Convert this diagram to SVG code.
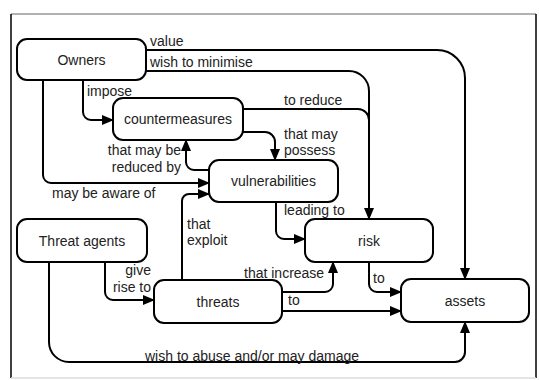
<svg xmlns="http://www.w3.org/2000/svg" width="539" height="380" viewBox="0 0 539 380">
<style>
.node rect{fill:#fff;stroke:#000;stroke-width:2}
.node text{font-family:"Liberation Sans",Arial,sans-serif;font-size:14px;fill:#222;text-anchor:middle}
.lbl{font-family:"Liberation Sans",Arial,sans-serif;font-size:14px;fill:#222}
.end{text-anchor:end}
#connectors path{fill:none;stroke:#000;stroke-width:2}
</style>
<defs>
<marker id="arr" markerUnits="userSpaceOnUse" markerWidth="12" markerHeight="10" refX="11" refY="5" orient="auto" viewBox="0 0 12 10">
<path d="M0,0 L12,5 L0,10 z" fill="#000"/>
</marker>
</defs>
<rect width="539" height="380" fill="#fff"/>
<g id="frame">
<line x1="11" y1="14" x2="536" y2="14" stroke="#999" stroke-width="1.5"/>
<line x1="11" y1="14" x2="11" y2="378" stroke="#000" stroke-width="1.5"/>
<line x1="536" y1="14" x2="536" y2="378" stroke="#000" stroke-width="1.5"/>
<line x1="11" y1="378" x2="536" y2="378" stroke="#ddd" stroke-width="1.5"/>
</g>
<g id="connectors">
<path d="M146,50 H437 A28,28 0 0 1 465,78 V279" marker-end="url(#arr)"/>
<path d="M146,71 H349 A20,20 0 0 1 369,91 V219" marker-end="url(#arr)"/>
<path d="M243,109 H358 A11,11 0 0 1 369,120"/>
<path d="M83,80 V112 A8,8 0 0 0 91,120 H113" marker-end="url(#arr)"/>
<path d="M43,80 V175 A8,8 0 0 0 51,183 H209" marker-end="url(#arr)"/>
<path d="M243,132 H265 A10,10 0 0 1 275,142 V160" marker-end="url(#arr)"/>
<path d="M209,170 H194 A8,8 0 0 1 186,162 V140" marker-end="url(#arr)"/>
<path d="M276,202 V231 A8,8 0 0 0 284,239 H305" marker-end="url(#arr)"/>
<path d="M182,280 V201 A7,7 0 0 1 189,194 H209" marker-end="url(#arr)"/>
<path d="M105,262 V292 A8,8 0 0 0 113,300 H154" marker-end="url(#arr)"/>
<path d="M49,262 V342 A20,20 0 0 0 69,362 H455 A10,10 0 0 0 465,352 V322" marker-end="url(#arr)"/>
<path d="M282,292 H325 A8,8 0 0 0 333,284 V262" marker-end="url(#arr)"/>
<path d="M282,311 H401" marker-end="url(#arr)"/>
<path d="M369,262 V284 A8,8 0 0 0 377,292 H401" marker-end="url(#arr)"/>
</g>
<g id="labels">
<text class="lbl" x="150" y="46">value</text>
<text class="lbl" x="150" y="67">wish to minimise</text>
<text class="lbl" x="87" y="96">impose</text>
<text class="lbl" x="284" y="105">to reduce</text>
<text class="lbl" x="284" y="139">that may</text>
<text class="lbl" x="284" y="155">possess</text>
<text class="lbl end" x="181" y="155">that may be</text>
<text class="lbl end" x="181" y="172">reduced by</text>
<text class="lbl" x="52" y="198">may be aware of</text>
<text class="lbl" x="284" y="215">leading to</text>
<text class="lbl" x="187" y="229">that</text>
<text class="lbl" x="187" y="245">exploit</text>
<text class="lbl end" x="151" y="275">give</text>
<text class="lbl end" x="151" y="292">rise to</text>
<text class="lbl" x="244" y="278">that increase</text>
<text class="lbl" x="288" y="305">to</text>
<text class="lbl" x="373" y="283">to</text>
<text class="lbl" x="145" y="361">wish to abuse and/or may damage</text>
</g>
<g id="owners" class="node"><rect x="17" y="39" width="129" height="41" rx="10"/><text x="81.5" y="64.5">Owners</text></g>
<g id="countermeasures" class="node"><rect x="113" y="98" width="130" height="42" rx="10"/><text x="178" y="124">countermeasures</text></g>
<g id="vulnerabilities" class="node"><rect x="209" y="160" width="129" height="42" rx="10"/><text x="273.5" y="186">vulnerabilities</text></g>
<g id="risk" class="node"><rect x="305" y="219" width="128" height="43" rx="10"/><text x="369" y="245.5">risk</text></g>
<g id="threat-agents" class="node"><rect x="17" y="219" width="130" height="43" rx="10"/><text x="82" y="245.5">Threat agents</text></g>
<g id="threats" class="node"><rect x="154" y="280" width="128" height="43" rx="10"/><text x="218" y="306.5">threats</text></g>
<g id="assets" class="node"><rect x="401" y="279" width="128" height="43" rx="10"/><text x="465" y="305.5">assets</text></g>
</svg>
